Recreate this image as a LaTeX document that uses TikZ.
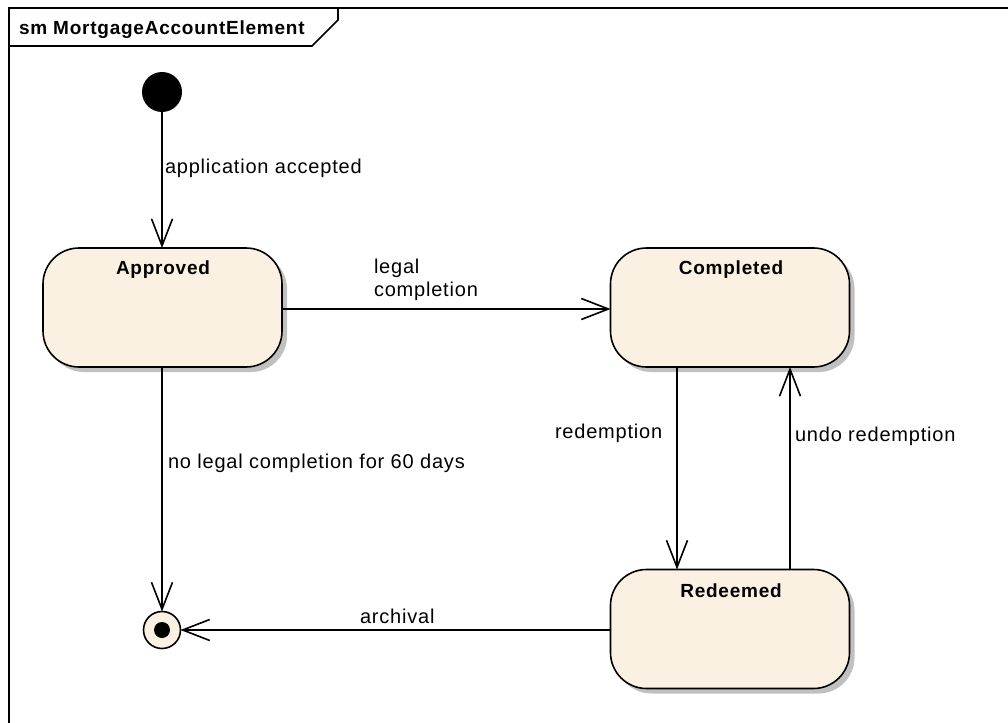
\documentclass[tikz,border=0pt]{standalone}
\usepackage{fontspec}
\setmainfont{Liberation Sans}
\newfontfamily\lblfont[LetterSpace=4]{Liberation Sans}
\usetikzlibrary{arrows.meta,calc}
\definecolor{statefill}{RGB}{251,241,226}
\definecolor{shadowgray}{RGB}{192,192,192}
\begin{document}
\begin{tikzpicture}[x=1pt,y=-1pt,
  every node/.style={inner sep=0pt, outer sep=0pt},
  lw/.style={line width=1.6pt},
  conn/.style={lw, -{Straight Barb[length=27pt,width=21pt,line width=1.6pt]}},
  statebox/.style={draw, lw, fill=statefill, rounded corners=36pt,
    minimum width=239pt, minimum height=119pt,
    preaction={fill=shadowgray, transform canvas={shift={(5pt,-5pt)}}}},
  stname/.style={anchor=base, font=\lblfont\bfseries\fontsize{19}{22}\selectfont},
  lbl/.style={anchor=base west, font=\lblfont\fontsize{20}{23}\selectfont, align=left},
]
\useasboundingbox (0,0) rectangle (1008,722);
\fill[white] (0,0) rectangle (1008,722);
\clip (0,0) rectangle (1008,722);

% diagram frame with its name tab
\draw[lw] (9,740) -- (9,8) -- (1030,8);
\draw[lw] (9,46) -- (312,46) -- (338,20) -- (338,8);
\node[anchor=base west, font=\lblfont\bfseries\fontsize{19}{22}\selectfont] (title) at (19,35) {sm MortgageAccountElement};

% states
\node[statebox] (approved) at (162.5,307.5) {};
\node[statebox] (completed) at (730,307.5) {};
\node[statebox] (redeemed) at (730,629) {};
\node[stname] (approvedT) at (163,274) {Approved};
\node[stname] (completedT) at (731,274) {Completed};
\node[stname] (redeemedT) at (731,597) {Redeemed};

% pseudostates
\node[circle, fill=black, minimum size=40pt] (init) at (162,92) {};
\node[circle, draw, lw, fill=statefill, minimum size=37pt] (final) at (162,630) {};
\node[circle, fill=black, minimum size=16pt] (finaldot) at (final) {};

% transitions
\draw[conn] (init.south) -- (init.south |- approved.north);
\draw[conn] (approved.east |- 0,309) -- (completed.west |- 0,309);
\draw[conn] (final.north |- approved.south) -- (final.north);
\draw[conn] (completed.south -| 677,0) -- (redeemed.north -| 677,0);
\draw[conn] (redeemed.north -| 790,0) -- (completed.south -| 790,0);
\draw[conn] (redeemed.west |- 0,630) -- (final.east);

% transition labels
\node[lbl] (lAccepted) at (165,173) {application accepted};
\node[lbl] (lLegal) at (374,273) {legal};
\node[lbl] (lCompletion) at (374,296) {completion};
\node[lbl] (lNoLegal) at (168,468) {no legal completion for 60 days};
\node[lbl] (lRedemption) at (555,438) {redemption};
\node[lbl] (lUndo) at (795,441) {undo redemption};
\node[lbl] (lArchival) at (360,623) {archival};
\end{tikzpicture}
\end{document}
